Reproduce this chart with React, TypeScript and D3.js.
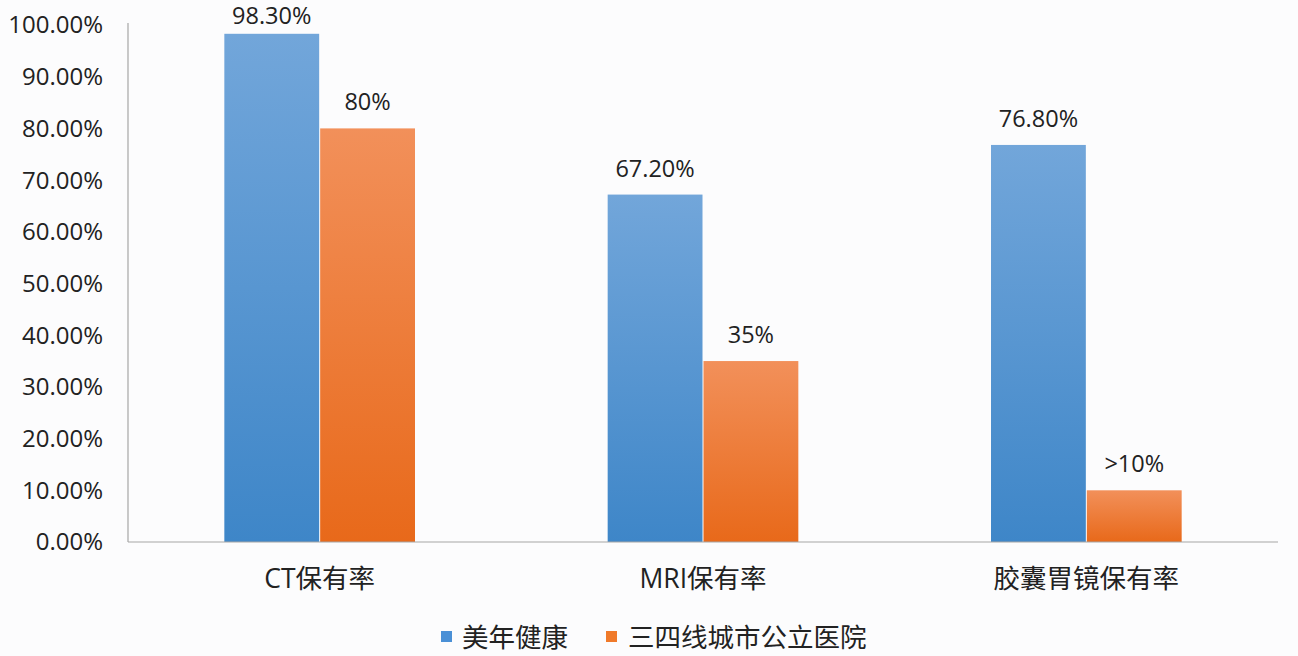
import React, { useEffect } from "react";
import * as d3 from "d3";

const categories = ["CT保有率", "MRI保有率", "胶囊胃镜保有率"];
const seriesNames = ["美年健康", "三四线城市公立医院"];
const meinianValues = [0.983, 0.672, 0.768];
const publicValues = [0.8, 0.35, 0.1];
const meinianLabels = ["98.30%", "67.20%", "76.80%"];
const publicLabels = ["80%", "35%", ">10%"];
const yTicks = [0, 0.1, 0.2, 0.3, 0.4, 0.5, 0.6, 0.7, 0.8, 0.9, 1.0];

const W = 1298;
const H = 656;
const FONT = '"Open Sans", "Noto Sans CJK SC", sans-serif';

export default function App() {
  useEffect(() => {
    document.body.style.margin = "0";
  }, []);

  const left = 128;
  const right = 1278;
  const top = 25;
  const bottom = 542;

  const x0 = d3.scaleBand<string>().domain(categories).range([left, right]).paddingInner(0.5).paddingOuter(0.25);
  const x1 = d3.scaleBand<string>().domain(seriesNames).range([0, x0.bandwidth()]).padding(0);
  const y = d3.scaleLinear().domain([0, 1]).range([bottom, top]);

  const series = [
    { name: seriesNames[0], values: meinianValues, labels: meinianLabels, grad: "gBlue", color: "#4a90d6" },
    { name: seriesNames[1], values: publicValues, labels: publicLabels, grad: "gOrange", color: "#f07a2a" },
  ];

  const fmt = d3.format(".2%");

  return (
    <svg width={W} height={H} style={{ display: "block", background: "#fcfcfd", fontFamily: FONT }}>
      <defs>
        <linearGradient id="gBlue" x1="0" y1="0" x2="0" y2="1">
          <stop offset="0%" stopColor="#72a6da" />
          <stop offset="100%" stopColor="#3e86c8" />
        </linearGradient>
        <linearGradient id="gOrange" x1="0" y1="0" x2="0" y2="1">
          <stop offset="0%" stopColor="#f2905a" />
          <stop offset="100%" stopColor="#e8691a" />
        </linearGradient>
      </defs>
      <rect x={0} y={0} width={W} height={H} fill="#fcfcfd" />

      {yTicks.map((t) => (
        <text key={t} x={left - 25} y={y(t)} dy="0.35em" textAnchor="end" fontSize={24} fill="#222">
          {fmt(t)}
        </text>
      ))}

      {categories.map((c, i) =>
        series.map((s) => {
          const bx = (x0(c) ?? 0) + (x1(s.name) ?? 0);
          const bw = x1.bandwidth();
          const by = y(s.values[i]);
          return (
            <g key={c + s.name}>
              <rect x={bx + 0.5} y={by} width={bw - 1} height={bottom - by} fill={`url(#${s.grad})`} />
              <text x={bx + bw / 2} y={Math.max(by - 18, 24)} textAnchor="middle" fontSize={23.5} fill="#222">
                {s.labels[i]}
              </text>
            </g>
          );
        })
      )}

      <line x1={left} x2={left} y1={top - 2} y2={bottom} stroke="#a6a6a6" strokeWidth={1.2} />
      <line x1={left} x2={right} y1={bottom} y2={bottom} stroke="#a6a6a6" strokeWidth={1.2} />

      {categories.map((c) => (
        <text key={c} x={(x0(c) ?? 0) + x0.bandwidth() / 2} y={588} textAnchor="middle" fontSize={26.5} fill="#222">
          {c}
        </text>
      ))}

      <g>
        <rect x={441} y={631} width={11} height={11} fill="#4a90d6" />
        <text x={462} y={647} fontSize={26.5} fill="#222">{seriesNames[0]}</text>
        <rect x={606} y={631} width={11} height={11} fill="#f07a2a" />
        <text x={628} y={647} fontSize={26.5} fill="#222">{seriesNames[1]}</text>
      </g>
    </svg>
  );
}
